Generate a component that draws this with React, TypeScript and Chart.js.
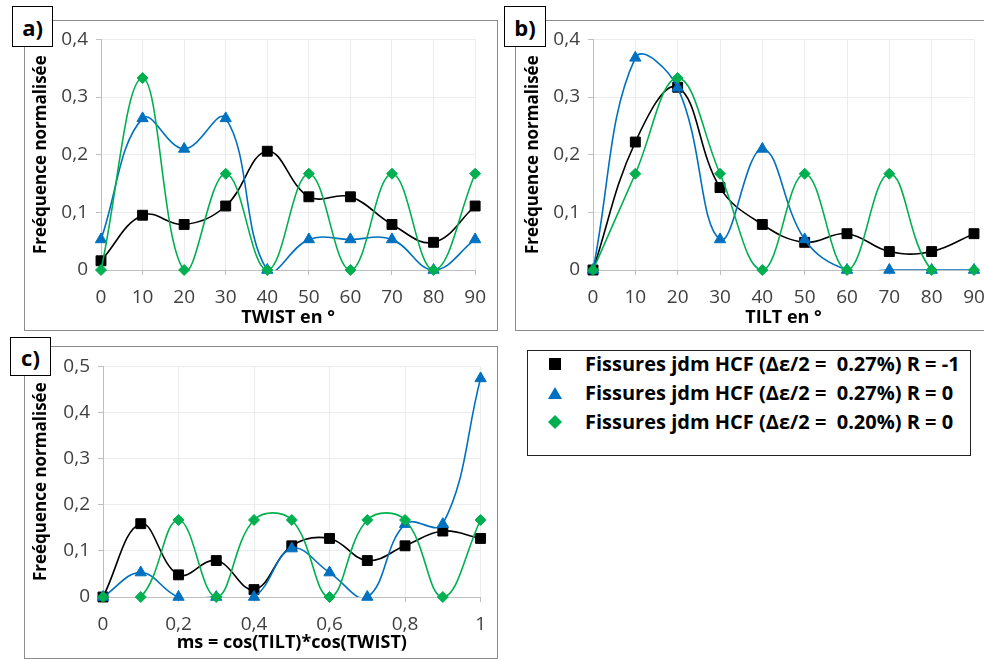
import React, { useEffect, useRef } from 'react';
import { Chart, registerables } from 'chart.js';
Chart.register(...registerables);

// ---------- data ----------
const angleTicks = [0, 10, 20, 30, 40, 50, 60, 70, 80, 90];
const msTicks = [0, 0.1, 0.2, 0.3, 0.4, 0.5, 0.6, 0.7, 0.8, 0.9, 1];

const twistBlack = [0.016, 0.095, 0.079, 0.111, 0.206, 0.127, 0.127, 0.079, 0.048, 0.111];
const twistBlue = [0.053, 0.263, 0.21, 0.263, 0, 0.053, 0.053, 0.053, 0, 0.053];
const twistGreen = [0, 0.333, 0, 0.167, 0, 0.167, 0, 0.167, 0, 0.167];

const tiltBlack = [0, 0.222, 0.317, 0.143, 0.079, 0.048, 0.063, 0.032, 0.032, 0.063];
const tiltBlue = [0, 0.368, 0.316, 0.053, 0.21, 0.053, 0, 0, 0, 0];
const tiltGreen = [0, 0.167, 0.333, 0.167, 0, 0.167, 0, 0.167, 0, 0];

const msBlack = [0, 0.159, 0.048, 0.079, 0.016, 0.111, 0.127, 0.079, 0.111, 0.143, 0.127];
const msBlue = [0, 0.053, 0, 0, 0, 0.105, 0.053, 0, 0.158, 0.158, 0.474];
const msGreen = [0, 0, 0.167, 0, 0.167, 0.167, 0, 0.167, 0.167, 0, 0.167];

const seriesLabels = [
  'Fissures jdm HCF (Δε/2 =  0.27%) R = -1',
  'Fissures jdm HCF (Δε/2 =  0.27%) R = 0',
  'Fissures jdm HCF (Δε/2 =  0.20%) R = 0',
];
const yTitle = 'Freéquence normalisée';

// ---------- styles ----------
const FONT = "'Open Sans', sans-serif";
const seriesStyles = [
  { color: '#000000', point: 'rect', radius: 7 },
  { color: '#0070C0', point: 'triangle', radius: 6.5 },
  { color: '#00B050', point: 'rectRot', radius: 5.5 },
];

const fmtDec = (v: number) => {
  const n = Math.round(Number(v) * 10) / 10;
  if (n === 0) return '0';
  if (n === 1) return '1';
  return n.toFixed(1).replace('.', ',');
};
const fmtInt = (v: number) => String(Math.round(Number(v)));

type Opts = {
  xMin: number; xMax: number; xStep: number; yMax: number; xTitle: string; xFmt: (v: number) => string;
  yAxisWidth: number; xAxisHeight: number; padRight: number; padTop: number; xTitlePadBottom: number;
};

function buildConfig(xs: number[], series: number[][], o: Opts): any {
  const datasets: any[] = [];
  series.forEach((arr, i) => {
    const st = seriesStyles[i];
    const data = xs.map((x, j) => ({ x, y: arr[j] }));
    datasets.push({
      label: seriesLabels[i],
      data,
      borderColor: st.color,
      backgroundColor: st.color,
      borderWidth: 1.6,
      pointRadius: 0,
      tension: 0.4,
      clip: { left: 20, right: 20, top: 20, bottom: 0 },
      order: 10 - 2 * i,
    });
    datasets.push({
      label: seriesLabels[i],
      data,
      showLine: false,
      pointStyle: st.point,
      pointRadius: st.radius,
      pointBackgroundColor: st.color,
      pointBorderColor: st.color,
      pointBorderWidth: 1,
      clip: false,
      order: 9 - 2 * i,
    });
  });
  const grid = { color: '#ececec', tickColor: '#bfbfbf', tickLength: 5, lineWidth: 1 };
  const border = { color: '#bfbfbf', width: 1 };
  return {
    type: 'line',
    data: { datasets },
    options: {
      animation: false,
      responsive: false,
      events: [],
      layout: { padding: { left: 0, right: o.padRight, top: o.padTop, bottom: 0 } },
      elements: { line: { capBezierPoints: false } },
      plugins: { legend: { display: false }, tooltip: { enabled: false } },
      scales: {
        x: {
          type: 'linear',
          min: o.xMin,
          max: o.xMax,
          ticks: {
            stepSize: o.xStep,
            callback: (v: number) => o.xFmt(v),
            font: { family: FONT, size: 19 },
            color: '#404040',
            padding: 11,
            maxRotation: 0,
            autoSkip: false,
          },
          grid,
          border,
          title: {
            display: true,
            text: o.xTitle,
            font: { family: FONT, size: 18, weight: 'bold' },
            color: '#000',
            padding: { top: 0, bottom: o.xTitlePadBottom },
          },
          afterFit: (s: any) => { s.height = o.xAxisHeight; },
        },
        y: {
          min: 0,
          max: o.yMax,
          ticks: {
            stepSize: 0.1,
            callback: (v: number) => fmtDec(v),
            font: { family: FONT, size: 19 },
            color: '#404040',
            padding: 8,
          },
          grid,
          border,
          title: {
            display: true,
            text: yTitle,
            font: { family: FONT, size: 17, weight: 'bold' },
            color: '#000',
            padding: { top: 7, bottom: 0 },
          },
          afterFit: (s: any) => { s.width = o.yAxisWidth; },
        },
      },
    },
  };
}

function ChartCanvas({ left, top, width, height, config }: any) {
  const ref = useRef<HTMLCanvasElement>(null);
  useEffect(() => {
    const chart = new Chart(ref.current as HTMLCanvasElement, config);
    return () => chart.destroy();
  }, []);
  return (
    <canvas
      ref={ref}
      width={width}
      height={height}
      style={{ position: 'absolute', left, top, width, height }}
    />
  );
}

function PanelBox({ left, top, width, height }: any) {
  return (
    <div
      style={{
        position: 'absolute', left, top, width, height,
        border: '1px solid #8c8c8c', boxSizing: 'border-box', background: '#fff',
      }}
    />
  );
}

function LabelBox({ left, top, width, height, text }: any) {
  return (
    <div
      style={{
        position: 'absolute', left, top, width, height,
        border: '1px solid #000', boxSizing: 'border-box', background: '#fff',
        display: 'flex', alignItems: 'center', justifyContent: 'center',
        fontFamily: FONT, fontWeight: 700, fontSize: 22, color: '#000', zIndex: 2,
      }}
    >
      {text}
    </div>
  );
}

function Marker({ kind, color }: any) {
  let shape: any = null;
  if (kind === 'rect') shape = <rect x={2} y={2} width={12} height={12} fill={color} />;
  else if (kind === 'triangle') shape = <polygon points="8,2 15,14 1,14" fill={color} />;
  else shape = <polygon points="8,1 15,8 8,15 1,8" fill={color} />;
  return <svg width={16} height={16} style={{ display: 'block' }}>{shape}</svg>;
}

function Legend() {
  const rowsY = [364, 393, 422];
  return (
    <div
      style={{
        position: 'absolute', left: 527, top: 350, width: 444, height: 106,
        border: '1px solid #222', boxSizing: 'border-box', background: '#fff',
      }}
    >
      {seriesLabels.map((lab, i) => (
        <React.Fragment key={i}>
          <div style={{ position: 'absolute', left: 555 - 527 - 8 - 1, top: rowsY[i] - 350 - 8 - 1 }}>
            <Marker kind={seriesStyles[i].point} color={seriesStyles[i].color} />
          </div>
          <div
            style={{
              position: 'absolute', left: 585 - 527 - 1, top: rowsY[i] - 350 - 14 - 1, height: 28,
              lineHeight: '28px', whiteSpace: 'pre', fontFamily: FONT, fontWeight: 700,
              fontSize: 20, color: '#000',
            }}
          >
            {lab}
          </div>
        </React.Fragment>
      ))}
    </div>
  );
}

export default function App() {
  const cfgA = buildConfig(angleTicks, [twistBlack, twistBlue, twistGreen], {
    xMin: 0, xMax: 90, xStep: 10, yMax: 0.4, xTitle: 'TWIST en °', xFmt: fmtInt,
    yAxisWidth: 77, xAxisHeight: 60, padRight: 20, padTop: 13, xTitlePadBottom: 1,
  });
  const cfgB = buildConfig(angleTicks, [tiltBlack, tiltBlue, tiltGreen], {
    xMin: 0, xMax: 90, xStep: 10, yMax: 0.4, xTitle: 'TILT en °', xFmt: fmtInt,
    yAxisWidth: 77, xAxisHeight: 60, padRight: 26, padTop: 13, xTitlePadBottom: 1,
  });
  const cfgC = buildConfig(msTicks, [msBlack, msBlue, msGreen], {
    xMin: 0, xMax: 1, xStep: 0.2, yMax: 0.5, xTitle: 'ms = cos(TILT)*cos(TWIST)', xFmt: fmtDec,
    yAxisWidth: 79, xAxisHeight: 61, padRight: 13, padTop: 13, xTitlePadBottom: 4,
  });
  return (
    <div
      style={{
        position: 'fixed', left: 0, top: 0, width: 984, height: 660,
        overflow: 'hidden', background: '#fff',
      }}
    >
      <PanelBox left={24} top={20} width={474} height={311} />
      <PanelBox left={515} top={20} width={500} height={311} />
      <PanelBox left={24} top={346} width={474} height={313} />
      <ChartCanvas left={24} top={20} width={473} height={310} config={cfgA} />
      <ChartCanvas left={516} top={20} width={484} height={310} config={cfgB} />
      <ChartCanvas left={24} top={347} width={473} height={311} config={cfgC} />
      <LabelBox left={12} top={6} width={41} height={41} text="a)" />
      <LabelBox left={504} top={6} width={42} height={41} text="b)" />
      <LabelBox left={10} top={337} width={41} height={39} text="c)" />
      <Legend />
    </div>
  );
}
